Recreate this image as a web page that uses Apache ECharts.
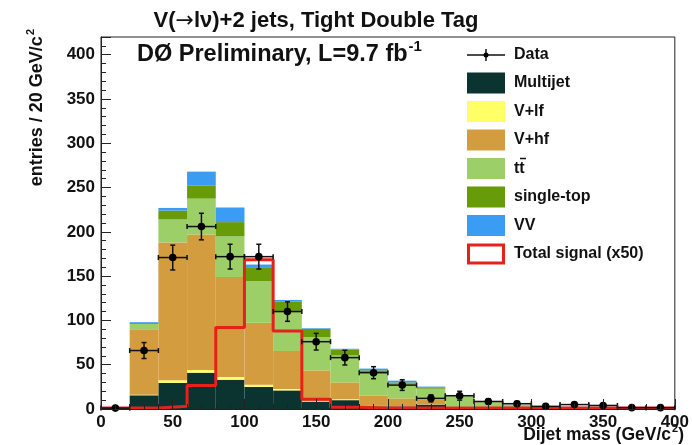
<!DOCTYPE html>
<html>
<head>
<meta charset="utf-8">
<script src="https://cdn.jsdelivr.net/npm/echarts@6/dist/echarts.min.js"></script>
<style>
  html, body { margin: 0; padding: 0; background: #fff; }
  #chart { width: 692px; height: 445px; }
</style>
</head>
<body>
<div id="chart"></div>
<script>
// Dijet mass bins, 20 GeV/c^2 wide (lower edges)
const binLow = [0, 20, 40, 60, 80, 100, 120, 140, 160, 180, 200, 220, 240, 260, 280, 300, 320, 340, 360, 380];
const binWidth = 20;

// Background contributions per bin (stacked bottom to top)
const multijet  = [0, 15.5, 29.5, 41, 33, 25, 21, 8, 10, 3, 3, 5, 0.5, 0.3, 0.3, 0, 0, 0, 0, 0];
const vlf       = [0, 0.5, 3, 3, 3, 2.5, 1.5, 0.5, 1, 0.5, 0.3, 0.3, 0, 0, 0, 0, 0, 0, 0, 0];
const vhf       = [0, 74, 155.5, 153, 113, 70, 43, 35, 19, 11.5, 8.7, 5, 2, 1.5, 2, 1, 0.8, 0.6, 0.5, 0.4];
const ttbar     = [0, 6, 26, 40.5, 46, 47, 44.6, 37.5, 30.4, 26.6, 16.5, 12.6, 12, 6, 2.3, 1.2, 1.2, 1, 0.8, 0.8];
const singleTop = [0, 1, 10, 15, 16, 15.6, 11, 9.6, 6.6, 2, 1.5, 1, 0.5, 0.4, 0.2, 0, 0.2, 0, 0, 0];
const diboson   = [0, 1, 3, 15.5, 16.5, 3, 2, 0.7, 1, 2, 2, 1.4, 0.5, 0.3, 0.2, 0.3, 0.3, 0.4, 0.7, 0.8];

// Total signal, scaled by 50
const signalX50 = [1, 1, 3, 26.5, 92, 168.5, 88, 11, 2, 1, 1, 1, 1, 1, 1, 1, 1, 1, 1, 1];

// Observed data and its uncertainties
const dataCounts = [1, 66, 171, 206, 172, 172, 110, 76, 58, 41, 27, 12, 15, 8.5, 6, 3, 5, 4, 1.5, 1.5];
const dataErr    = [0, 9, 14, 15, 14, 14, 11, 9.4, 8.3, 6.8, 6, 4, 5, 3, 2.5, 2, 2.2, 2, 1.2, 1.2];

// Axis ticks
const yTicks = [0, 50, 100, 150, 200, 250, 300, 350, 400];
const xTicks = [0, 50, 100, 150, 200, 250, 300, 350, 400];

const FONT = '"Liberation Sans", Arial, Helvetica, sans-serif';

const components = [
  { name: 'Multijet',   values: multijet,  color: '#0b3430' },
  { name: 'V+lf',       values: vlf,       color: '#ffff66' },
  { name: 'V+hf',       values: vhf,       color: '#d39c3f' },
  { name: 'ttbar',      values: ttbar,     color: '#9ccf68' },
  { name: 'single-top', values: singleTop, color: '#679b08' },
  { name: 'VV',         values: diboson,   color: '#3a9cf2' }
];

// Build stacked rectangles [x0, x1, base, top]
const running = binLow.map(() => 0);
const stackSeries = components.map(comp => {
  const rows = binLow.map((x0, i) => {
    const base = running[i];
    const top = base + comp.values[i];
    running[i] = top;
    return [x0, x0 + binWidth, base, top];
  });
  return {
    type: 'custom',
    name: comp.name,
    z: 2,
    encode: { x: [0, 1], y: [2, 3] },
    data: rows,
    renderItem: function (params, api) {
      if (api.value(3) - api.value(2) <= 0) return null;
      const p0 = api.coord([api.value(0), api.value(3)]);
      const p1 = api.coord([api.value(1), api.value(2)]);
      return {
        type: 'rect',
        shape: { x: p0[0], y: p0[1], width: p1[0] - p0[0], height: p1[1] - p0[1] },
        style: { fill: comp.color, stroke: null }
      };
    }
  };
});

// Step outline for the signal histogram
const signalLine = binLow.map((x0, i) => [x0, signalX50[i]]);
signalLine.push([binLow[binLow.length - 1] + binWidth, signalX50[signalX50.length - 1]]);

const dataRows = binLow.map((x0, i) => [x0, x0 + binWidth, dataCounts[i], dataErr[i]]);

const option = {
  animation: false,
  backgroundColor: '#ffffff',
  grid: {
    left: 101, right: 11, top: 37, bottom: 36,
    show: true, borderColor: '#222', borderWidth: 1, backgroundColor: 'transparent'
  },
  xAxis: {
    type: 'value', min: 0, max: 400, interval: 50, z: 6,
    axisLine: { show: true, onZero: false, lineStyle: { color: '#222', width: 1 } },
    axisTick: { show: true, inside: true, length: 10, lineStyle: { color: '#222', width: 1 } },
    minorTick: { show: true, splitNumber: 5, length: 5, lineStyle: { color: '#222', width: 1 } },
    splitLine: { show: false },
    axisLabel: {
      margin: 5, color: '#111', fontFamily: FONT, fontWeight: 'bold', fontSize: 17,
      formatter: v => (xTicks.indexOf(v) >= 0 ? String(v) : '')
    }
  },
  yAxis: {
    type: 'value', min: 0, max: 420, interval: 50, z: 6,
    axisLine: { show: true, lineStyle: { color: '#222', width: 1 } },
    axisTick: { show: true, inside: true, length: 10, lineStyle: { color: '#222', width: 1 } },
    minorTick: { show: true, splitNumber: 5, length: 5, lineStyle: { color: '#222', width: 1 } },
    splitLine: { show: false },
    axisLabel: {
      margin: 6, color: '#111', fontFamily: FONT, fontWeight: 'bold', fontSize: 17,
      formatter: v => (yTicks.indexOf(v) >= 0 ? String(v) : '')
    }
  },
  series: stackSeries.concat([
    {
      type: 'line',
      name: 'Total signal (x50)',
      z: 3,
      step: 'end',
      showSymbol: false,
      symbol: 'none',
      data: signalLine,
      lineStyle: { color: '#e8201c', width: 3 }
    },
    {
      type: 'custom',
      name: 'Data',
      z: 4,
      encode: { x: [0, 1], y: 2 },
      data: dataRows,
      renderItem: function (params, api) {
        const x0 = api.value(0), x1 = api.value(1), y = api.value(2), e = api.value(3);
        const xc = (x0 + x1) / 2;
        const c = api.coord([xc, y]);
        const l = api.coord([x0, y]);
        const r = api.coord([x1, y]);
        const t = api.coord([xc, y + e]);
        const b = api.coord([xc, y - e]);
        const st = { stroke: '#111', lineWidth: 1.5 };
        const kids = [
          { type: 'line', shape: { x1: l[0], y1: l[1], x2: r[0], y2: r[1] }, style: st },
          { type: 'line', shape: { x1: l[0], y1: l[1] - 2.5, x2: l[0], y2: l[1] + 2.5 }, style: st },
          { type: 'line', shape: { x1: r[0], y1: r[1] - 2.5, x2: r[0], y2: r[1] + 2.5 }, style: st }
        ];
        if (e > 0) {
          kids.push(
            { type: 'line', shape: { x1: t[0], y1: t[1], x2: b[0], y2: b[1] }, style: st },
            { type: 'line', shape: { x1: t[0] - 2.5, y1: t[1], x2: t[0] + 2.5, y2: t[1] }, style: st },
            { type: 'line', shape: { x1: b[0] - 2.5, y1: b[1], x2: b[0] + 2.5, y2: b[1] }, style: st }
          );
        }
        kids.push({ type: 'circle', shape: { cx: c[0], cy: c[1], r: 3.8 }, style: { fill: '#000' } });
        return { type: 'group', children: kids };
      }
    }
  ]),
  graphic: buildGraphics()
};

// Rich-text styles: normal run plus a raised superscript
function supRich(size) {
  return {
    n: { fontFamily: FONT, fontWeight: 'bold', fontSize: size, fill: '#111', lineHeight: size * 1.3 },
    a: { fontFamily: '"DejaVu Sans", ' + FONT, fontWeight: 'normal', fontSize: size, fill: '#111', lineHeight: size * 1.3 },
    s: { fontFamily: FONT, fontWeight: 'bold', fontSize: Math.round(size * 0.62), fill: '#111',
         verticalAlign: 'top', lineHeight: size * 1.3, padding: [0, 0, Math.round(size * 0.55), 1] }
  };
}

function buildGraphics() {
  const g = [];
  // Title
  g.push({
    type: 'text', x: 316, y: 21,
    style: {
      text: '{n|V(}{a|\u2192}{n|l\u03bd)+2 jets, Tight Double Tag}',
      align: 'center', verticalAlign: 'middle',
      rich: supRich(22)
    }
  });
  // Experiment label
  g.push({
    type: 'text', x: 137, y: 55,
    style: {
      text: '{n|D\u00d8 Preliminary, L=9.7 fb}{s|-1}',
      verticalAlign: 'middle', align: 'left',
      rich: supRich(23.5)
    }
  });
  // Axis titles
  g.push({
    type: 'text', x: 37, y: 29, rotation: Math.PI / 2,
    style: {
      text: '{n|entries / 20 GeV/c}{s|2}', align: 'right', verticalAlign: 'middle',
      rich: supRich(18)
    }
  });
  g.push({
    type: 'text', x: 684, y: 435,
    style: {
      text: '{n|Dijet mass (GeV/c}{s|2}{n|)}', align: 'right', verticalAlign: 'middle',
      rich: supRich(17.5)
    }
  });
  // Legend
  const lx = 467, bw = 38, bh = 21, tx = 514;
  const rows = [
    { label: 'Data', y: 55, kind: 'data' },
    { label: 'Multijet', y: 83, color: components[0].color },
    { label: 'V+lf', y: 111.5, color: components[1].color },
    { label: 'V+hf', y: 140, color: components[2].color },
    { label: 'tt', y: 168.5, color: components[3].color, bar: true },
    { label: 'single-top', y: 197, color: components[4].color },
    { label: 'VV', y: 225.5, color: components[5].color },
    { label: 'Total signal (x50)', y: 254, kind: 'signal' }
  ];
  rows.forEach(r => {
    if (r.kind === 'data') {
      g.push({ type: 'line', shape: { x1: lx, y1: r.y, x2: lx + bw, y2: r.y }, style: { stroke: '#111', lineWidth: 1.5 } });
      g.push({ type: 'line', shape: { x1: lx + bw / 2, y1: r.y - 6, x2: lx + bw / 2, y2: r.y + 6 }, style: { stroke: '#111', lineWidth: 1.5 } });
      g.push({ type: 'circle', shape: { cx: lx + bw / 2, cy: r.y, r: 2.5 }, style: { fill: '#000' } });
    } else if (r.kind === 'signal') {
      g.push({ type: 'rect', shape: { x: lx + 1.5, y: r.y - bh / 2 + 1.5, width: bw - 3, height: bh - 3 }, style: { fill: '#fff', stroke: '#e8201c', lineWidth: 3 } });
    } else {
      g.push({ type: 'rect', shape: { x: lx, y: r.y - bh / 2, width: bw, height: bh }, style: { fill: r.color } });
    }
    g.push({
      type: 'text', x: tx, y: r.y,
      style: { text: r.label, font: 'bold 16px ' + FONT, fill: '#111', verticalAlign: 'middle', align: 'left' }
    });
    if (r.bar) {
      g.push({ type: 'line', shape: { x1: tx + 6, y1: r.y - 10, x2: tx + 12, y2: r.y - 10 }, style: { stroke: '#111', lineWidth: 1.5 } });
    }
  });
  return g;
}

const chart = echarts.init(document.getElementById('chart'), null, { renderer: 'canvas' });
chart.setOption(option);
</script>
</body>
</html>
